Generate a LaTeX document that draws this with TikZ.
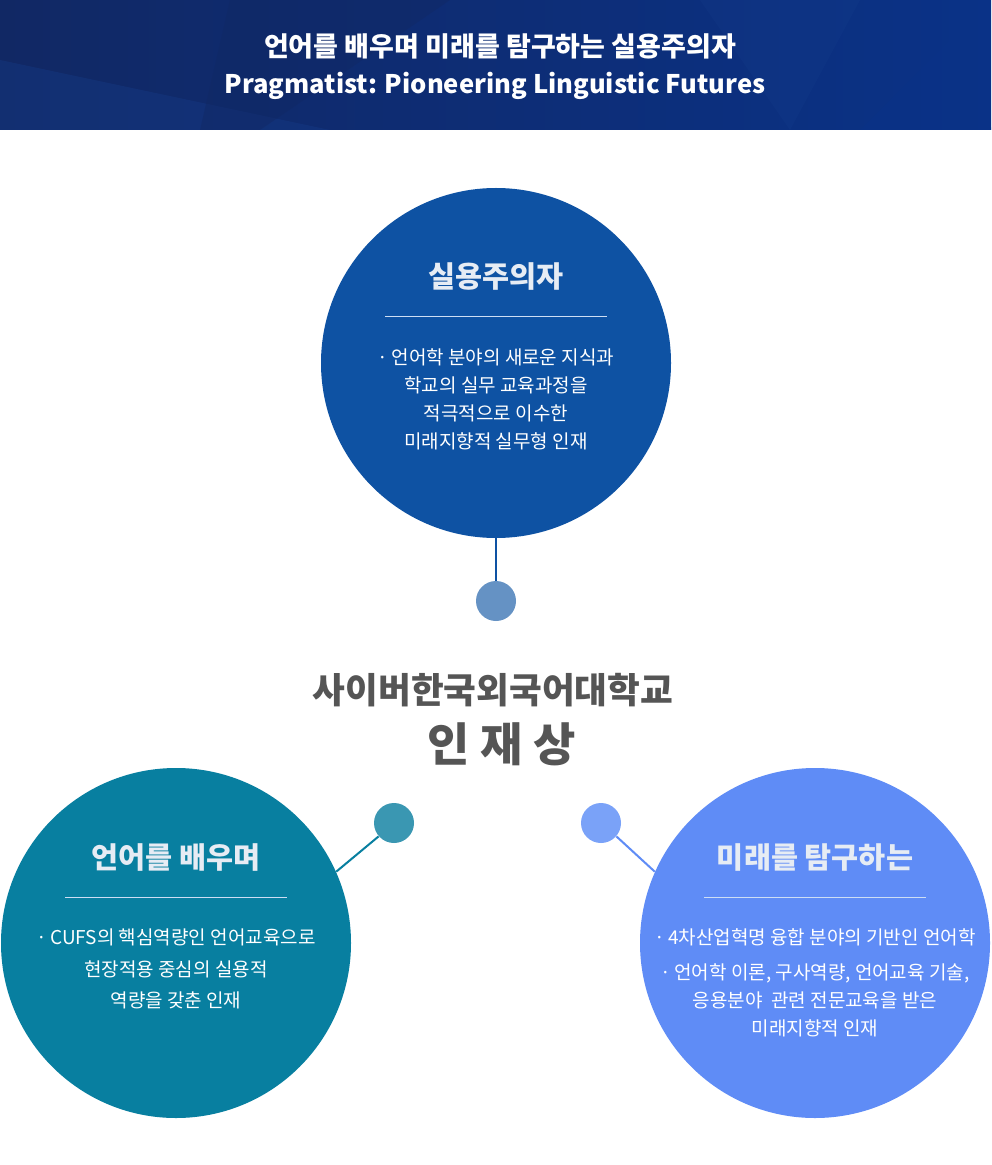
\documentclass[tikz,border=0pt]{standalone}
\usepackage{fontspec}
\newfontfamily\kr{Noto Sans CJK KR}
\usetikzlibrary{positioning}
\definecolor{hdA}{RGB}{17,40,100}
\definecolor{hdB}{RGB}{10,50,135}
\definecolor{hdC}{RGB}{22,62,140}
\definecolor{blueA}{RGB}{14,82,163}
\definecolor{blueAdot}{RGB}{101,146,196}
\definecolor{tealB}{RGB}{8,127,160}
\definecolor{tealBdot}{RGB}{58,151,178}
\definecolor{skyC}{RGB}{95,140,246}
\definecolor{skyCdot}{RGB}{122,162,248}
\definecolor{titlegrey}{RGB}{230,236,244}
\definecolor{seplight}{RGB}{205,222,244}
\definecolor{unigrey}{RGB}{85,85,85}

\begin{document}
\begin{tikzpicture}[
  x=0.5pt, y=-0.5pt,
  circ/.style={circle, inner sep=0pt, minimum size=175pt},
  dot/.style={circle, inner sep=0pt, minimum size=20pt},
  ttl/.style={text=titlegrey, font=\kr\bfseries\fontsize{14.7}{17}\selectfont},
  body/.style={text=white, align=center, font=\kr\fontsize{9.5}{14}\selectfont},
  sep/.style={draw=seplight, line width=0.5pt},
  link/.style={line width=1pt},
  head/.style={text=white, font=\kr\bfseries\fontsize{13.5}{16}\selectfont},
  uni/.style={text=unigrey, font=\kr\bfseries\fontsize{17.8}{20}\selectfont},
  jae/.style={text=unigrey, font=\kr\bfseries\fontsize{23}{26}\selectfont},
]
  \fill[white] (0,0) rectangle (991,1165);
  \useasboundingbox (0,0) rectangle (991,1165);

  % header band
  \shade[left color=hdA, right color=hdB] (0,0) rectangle (991,130);
  \fill[hdC, opacity=0.35] (0,60) -- (330,130) -- (0,130) -- cycle;
  \fill[hdA, opacity=0.45] (230,0) -- (450,0) -- (260,130) -- (200,130) -- cycle;
  \fill[hdC, opacity=0.25] (700,0) -- (860,0) -- (790,130) -- cycle;
  \fill[hdB, opacity=0.5] (990,0) -- (991,130) -- (860,130) -- cycle;
  \node[head] (head1) at (500,46) {언어를 배우며 미래를 탐구하는 실용주의자};
  \node[head, font=\kr\bfseries\fontsize{12.8}{16}\selectfont] (head2) at (495,86)
    {Pragmatist: Pioneering Linguistic Futures};

  % centre title
  \node[uni] (uni) at (493,690) {사이버한국외국어대학교};
  \node[jae] (jae) at (502,744) {인 재 상};

  % three circles
  \node[circ, fill=blueA] (prag) at (496,363) {};
  \node[circ, fill=tealB] (lang) at (176,943) {};
  \node[circ, fill=skyC] (futr) at (815,943) {};

  \node[dot, fill=blueAdot] (pragdot) at (496,601) {};
  \node[dot, fill=tealBdot] (langdot) at (394,823) {};
  \node[dot, fill=skyCdot] (futrdot) at (601,823) {};

  \draw[link, blueA] (prag.south) -- (pragdot.north);
  \draw[link, tealB] (langdot.221) -- (lang.24);
  \draw[link, skyC] (futrdot.-41) -- (futr.156);

  % top circle
  \node[ttl] (pragttl) at ([yshift=43pt]prag.center) {실용주의자};
  \draw[sep] ([shift={(-55.5pt,23pt)}]prag.center) -- ([shift={(55.5pt,23pt)}]prag.center);
  \node[body] (pragtxt) at ([yshift=-18pt]prag.center)
    {·\,언어학 분야의 새로운 지식과\\학교의 실무 교육과정을\\적극적으로 이수한\\미래지향적 실무형 인재};

  % left circle
  \node[ttl] (langttl) at ([yshift=43pt]lang.center) {언어를 배우며};
  \draw[sep] ([shift={(-55.5pt,23pt)}]lang.center) -- ([shift={(55.5pt,23pt)}]lang.center);
  \node[body, font=\kr\fontsize{9.5}{15.75}\selectfont] (langtxt) at ([yshift=-13pt]lang.center)
    {·\,CUFS의 핵심역량인 언어교육으로\\현장적용 중심의 실용적\\역량을 갖춘 인재};

  % right circle
  \node[ttl] (futrttl) at ([yshift=43pt]futr.center) {미래를 탐구하는};
  \draw[sep] ([shift={(-55.5pt,23pt)}]futr.center) -- ([shift={(55.5pt,23pt)}]futr.center);
  \node[body] (futrtxt) at ([yshift=-20pt]futr.center)
    {·\,4차산업혁명 융합 분야의 기반인 언어학\\[3.5pt]·\,언어학 이론, 구사역량, 언어교육 기술,\\응용분야~~관련 전문교육을 받은\\미래지향적 인재};
\end{tikzpicture}
\end{document}
